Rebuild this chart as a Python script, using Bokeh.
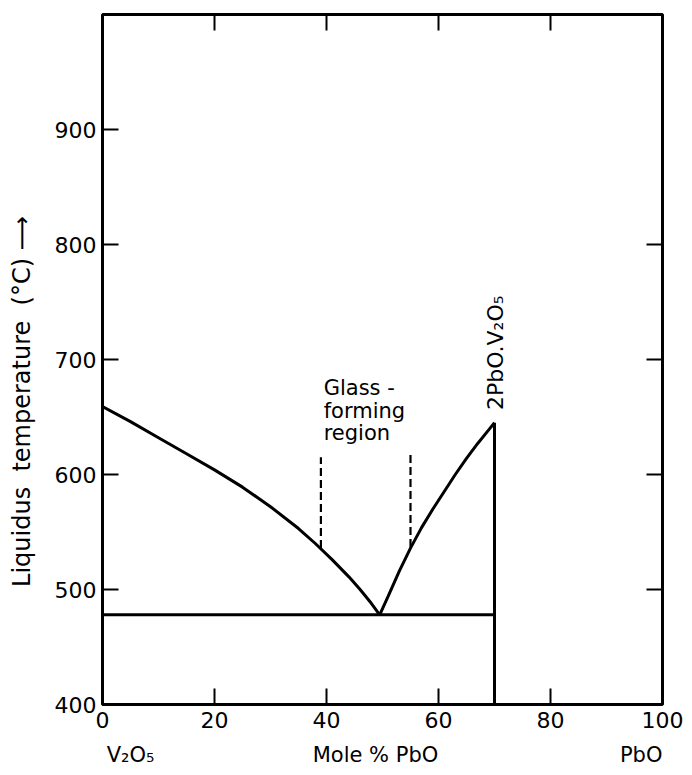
from bokeh.plotting import figure
from bokeh.models import Range1d, LinearAxis, Label, FixedTicker
from bokeh.embed import file_html
from bokeh.resources import INLINE
import math

# ---- data ----
left_x = [0, 5, 10, 15, 20, 25, 30, 35, 38, 41, 44, 46, 48, 49.5]
left_T = [659, 646, 632, 618, 604, 589, 572, 553, 540, 526, 511, 500, 488, 478]

right_x = [49.5, 51, 53, 55, 57, 59, 61, 63, 65, 67, 69, 70]
right_T = [478, 494, 516, 536, 554, 570, 585, 600, 614, 627, 639, 645]

eutectic_x = [0, 70]
eutectic_T = [478, 478]

compound_x = [70, 70]
compound_T = [400, 645]

glass_left_x = [39, 39]
glass_left_T = [536, 615]
glass_right_x = [55, 55]
glass_right_T = [537, 618]

x_ticks = [0, 20, 40, 60, 80, 100]
y_ticks = [400, 500, 600, 700, 800, 900]
right_ticks = [500, 600, 700, 800]

end_label_pos = [5.0, 48.75, 96.2]
end_label_text = ["V\u2082O\u2085", "Mole % PbO", "PbO"]

NB = "\u00a0"
y_title = "Liquidus" + NB * 2 + "temperature" + NB * 2 + "(\u00b0C)" + NB + "\u27f6" + NB * 11

FONT = "DejaVu Sans"

p = figure(width=692, height=775, x_range=Range1d(0, 100), y_range=Range1d(400, 1000),
           output_backend="svg", toolbar_location=None, title=None,
           min_border_left=102, min_border_right=30, min_border_top=14, min_border_bottom=71,
           background_fill_color="white", border_fill_color="white")

p.xgrid.visible = False
p.ygrid.visible = False
p.outline_line_color = "black"
p.outline_line_width = 3

def style_axis(ax):
    ax.axis_line_color = None
    ax.major_tick_in = 16
    ax.major_tick_out = 0
    ax.major_tick_line_width = 2
    ax.major_tick_line_color = "black"
    ax.minor_tick_line_color = None
    ax.major_label_text_font = FONT
    ax.major_label_text_font_size = "22px"
    ax.major_label_text_color = "black"

xa = p.xaxis[0]
xa.ticker = FixedTicker(ticks=x_ticks)
style_axis(xa)
xa.major_label_standoff = 7

ya = p.yaxis[0]
ya.ticker = FixedTicker(ticks=y_ticks)
style_axis(ya)
ya.major_label_standoff = 6
ya.axis_label = y_title
ya.axis_label_text_font = FONT
ya.axis_label_text_font_size = "24px"
ya.axis_label_text_font_style = "normal"
ya.axis_label_text_color = "black"
ya.axis_label_standoff = 16

top = LinearAxis(ticker=FixedTicker(ticks=x_ticks[1:-1]),
                 major_label_overrides={t: "" for t in x_ticks[1:-1]})
style_axis(top)
top.major_label_standoff = 0
p.add_layout(top, "above")

right = LinearAxis(ticker=FixedTicker(ticks=right_ticks),
                   major_label_overrides={t: "" for t in right_ticks})
style_axis(right)
right.major_label_standoff = 0
p.add_layout(right, "right")

# composition names under the axis
names = LinearAxis(ticker=FixedTicker(ticks=end_label_pos),
                   major_label_overrides={k: t for k, t in zip(end_label_pos, end_label_text)})
style_axis(names)
names.major_tick_line_color = None
names.major_tick_in = 0
names.major_label_text_font_size = "21px"
names.major_label_standoff = 12
p.add_layout(names, "below")

# ---- curves ----
p.line(left_x, left_T, line_color="black", line_width=3)
p.line(right_x, right_T, line_color="black", line_width=3)
p.line(eutectic_x, eutectic_T, line_color="black", line_width=3)
p.line(compound_x, compound_T, line_color="black", line_width=3)
p.line(glass_left_x, glass_left_T, line_color="black", line_width=2.2, line_dash="8 4")
p.line(glass_right_x, glass_right_T, line_color="black", line_width=2.2, line_dash="8 4")

# ---- texts inside the frame ----
def lab(x, y, text, size="21px", angle=0, align="left", baseline="alphabetic"):
    p.add_layout(Label(x=x, y=y, text=text, text_font=FONT, text_font_size=size,
                       text_color="black", angle=angle, text_align=align,
                       text_baseline=baseline))

lab(39.5, 675, "Glass -")
lab(39.5, 655, "forming")
lab(39.5, 636, "region")
lab(70.2, 656, "2PbO.V\u2082O\u2085", size="22px", angle=math.pi / 2, baseline="middle")

open("out.html", "w").write(file_html(p, INLINE))
